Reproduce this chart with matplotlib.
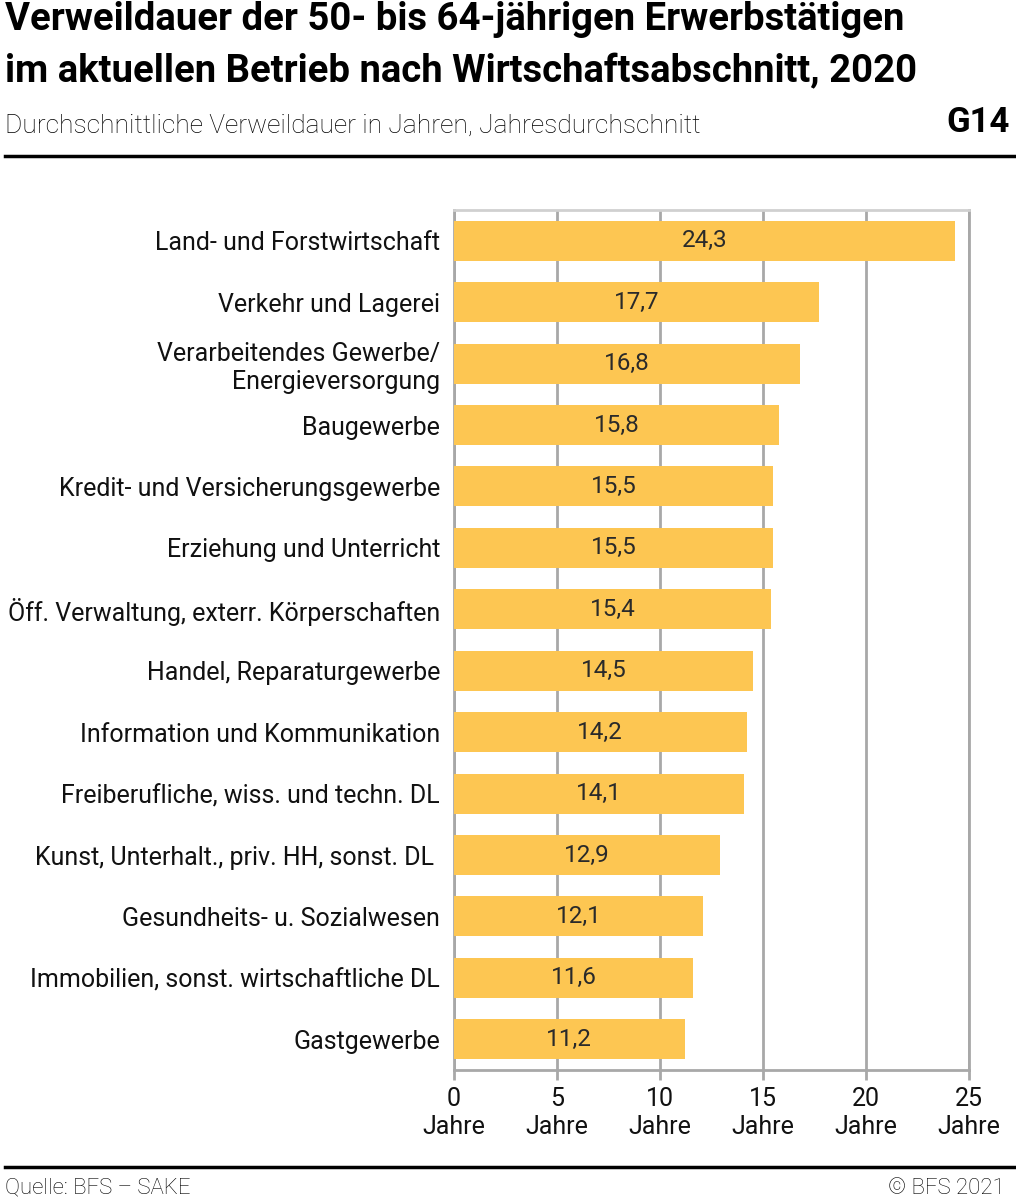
import matplotlib
matplotlib.use("Agg")
import matplotlib.pyplot as plt

plt.rcParams['font.family'] = ['Roboto', 'DejaVu Sans']

# Data
categories = [
    "Land- und Forstwirtschaft",
    "Verkehr und Lagerei",
    "Verarbeitendes Gewerbe/\nEnergieversorgung",
    "Baugewerbe",
    "Kredit- und Versicherungsgewerbe",
    "Erziehung und Unterricht",
    "Öff. Verwaltung, exterr. Körperschaften",
    "Handel, Reparaturgewerbe",
    "Information und Kommunikation",
    "Freiberufliche, wiss. und techn. DL",
    "Kunst, Unterhalt., priv. HH, sonst. DL ",
    "Gesundheits- u. Sozialwesen",
    "Immobilien, sonst. wirtschaftliche DL",
    "Gastgewerbe",
]
values = [24.3, 17.7, 16.8, 15.8, 15.5, 15.5, 15.4, 14.5, 14.2, 14.1, 12.9, 12.1, 11.6, 11.2]
xticks = [0, 5, 10, 15, 20, 25]
xtick_labels = [f"{t}\nJahre" for t in xticks]

bar_color = "#fdc652"
grid_color = "#a8a8a8"

fig = plt.figure(figsize=(10.16, 12.04), dpi=100)
ax = fig.add_axes([454 / 1016, 1 - 1070 / 1204, 515 / 1016, 860 / 1204])

ypos = list(range(len(categories)))
ax.barh(ypos, values, height=0.65, color=bar_color, zorder=3)
for y, v in zip(ypos, values):
    ax.text(v / 2, y, f"{v:.1f}".replace(".", ","), ha="center", va="center",
            fontsize=17.5, color="#2a2a2a", zorder=4)

ax.set_xlim(0, 25)
ax.set_ylim(len(categories) - 0.5, -0.5)
ax.set_yticks(ypos)
ax.set_yticklabels(categories, fontsize=18, color="#111111", linespacing=1.2)
ax.tick_params(axis="y", length=0, pad=10)
ax.set_xticks(xticks)
ax.set_xticklabels(xtick_labels, fontsize=18, color="#111111", linespacing=1.25)
ax.tick_params(axis="x", length=7, width=2, color=grid_color, pad=5)
ax.grid(axis="x", color=grid_color, linewidth=2, zorder=0)
for side in ["left", "bottom", "right"]:
    ax.spines[side].set_color(grid_color)
    ax.spines[side].set_linewidth(2)
ax.spines["top"].set_color("#d0d0d0")
ax.spines["top"].set_linewidth(2)

# Titles
fig.text(5 / 1016, 1 - 20 / 1204, "Verweildauer der 50- bis 64-jährigen Erwerbstätigen",
         fontsize=27.5, fontweight="bold", va="center", ha="left")
fig.text(5 / 1016, 1 - 72 / 1204, "im aktuellen Betrieb nach Wirtschaftsabschnitt, 2020",
         fontsize=27.5, fontweight="bold", va="center", ha="left")
fig.text(5 / 1016, 1 - 126 / 1204, "Durchschnittliche Verweildauer in Jahren, Jahresdurchschnitt",
         fontsize=19, fontweight="light", va="center", ha="left")
fig.text(1010 / 1016, 1 - 122 / 1204, "G14", fontsize=25, fontweight="bold",
         va="center", ha="right")

fig.add_artist(plt.Line2D([5 / 1016, 1015 / 1016], [1 - 156 / 1204, 1 - 156 / 1204],
                          color="black", linewidth=2.5))
fig.add_artist(plt.Line2D([5 / 1016, 1015 / 1016], [1 - 1167 / 1204, 1 - 1167 / 1204],
                          color="black", linewidth=2.5))

fig.text(5 / 1016, 1 - 1188 / 1204, "Quelle: BFS – SAKE", fontsize=16,
         fontweight="light", va="center", ha="left")
fig.text(1005 / 1016, 1 - 1188 / 1204, "© BFS 2021", fontsize=16,
         fontweight="light", va="center", ha="right")

fig.savefig("out.png", dpi=100)
